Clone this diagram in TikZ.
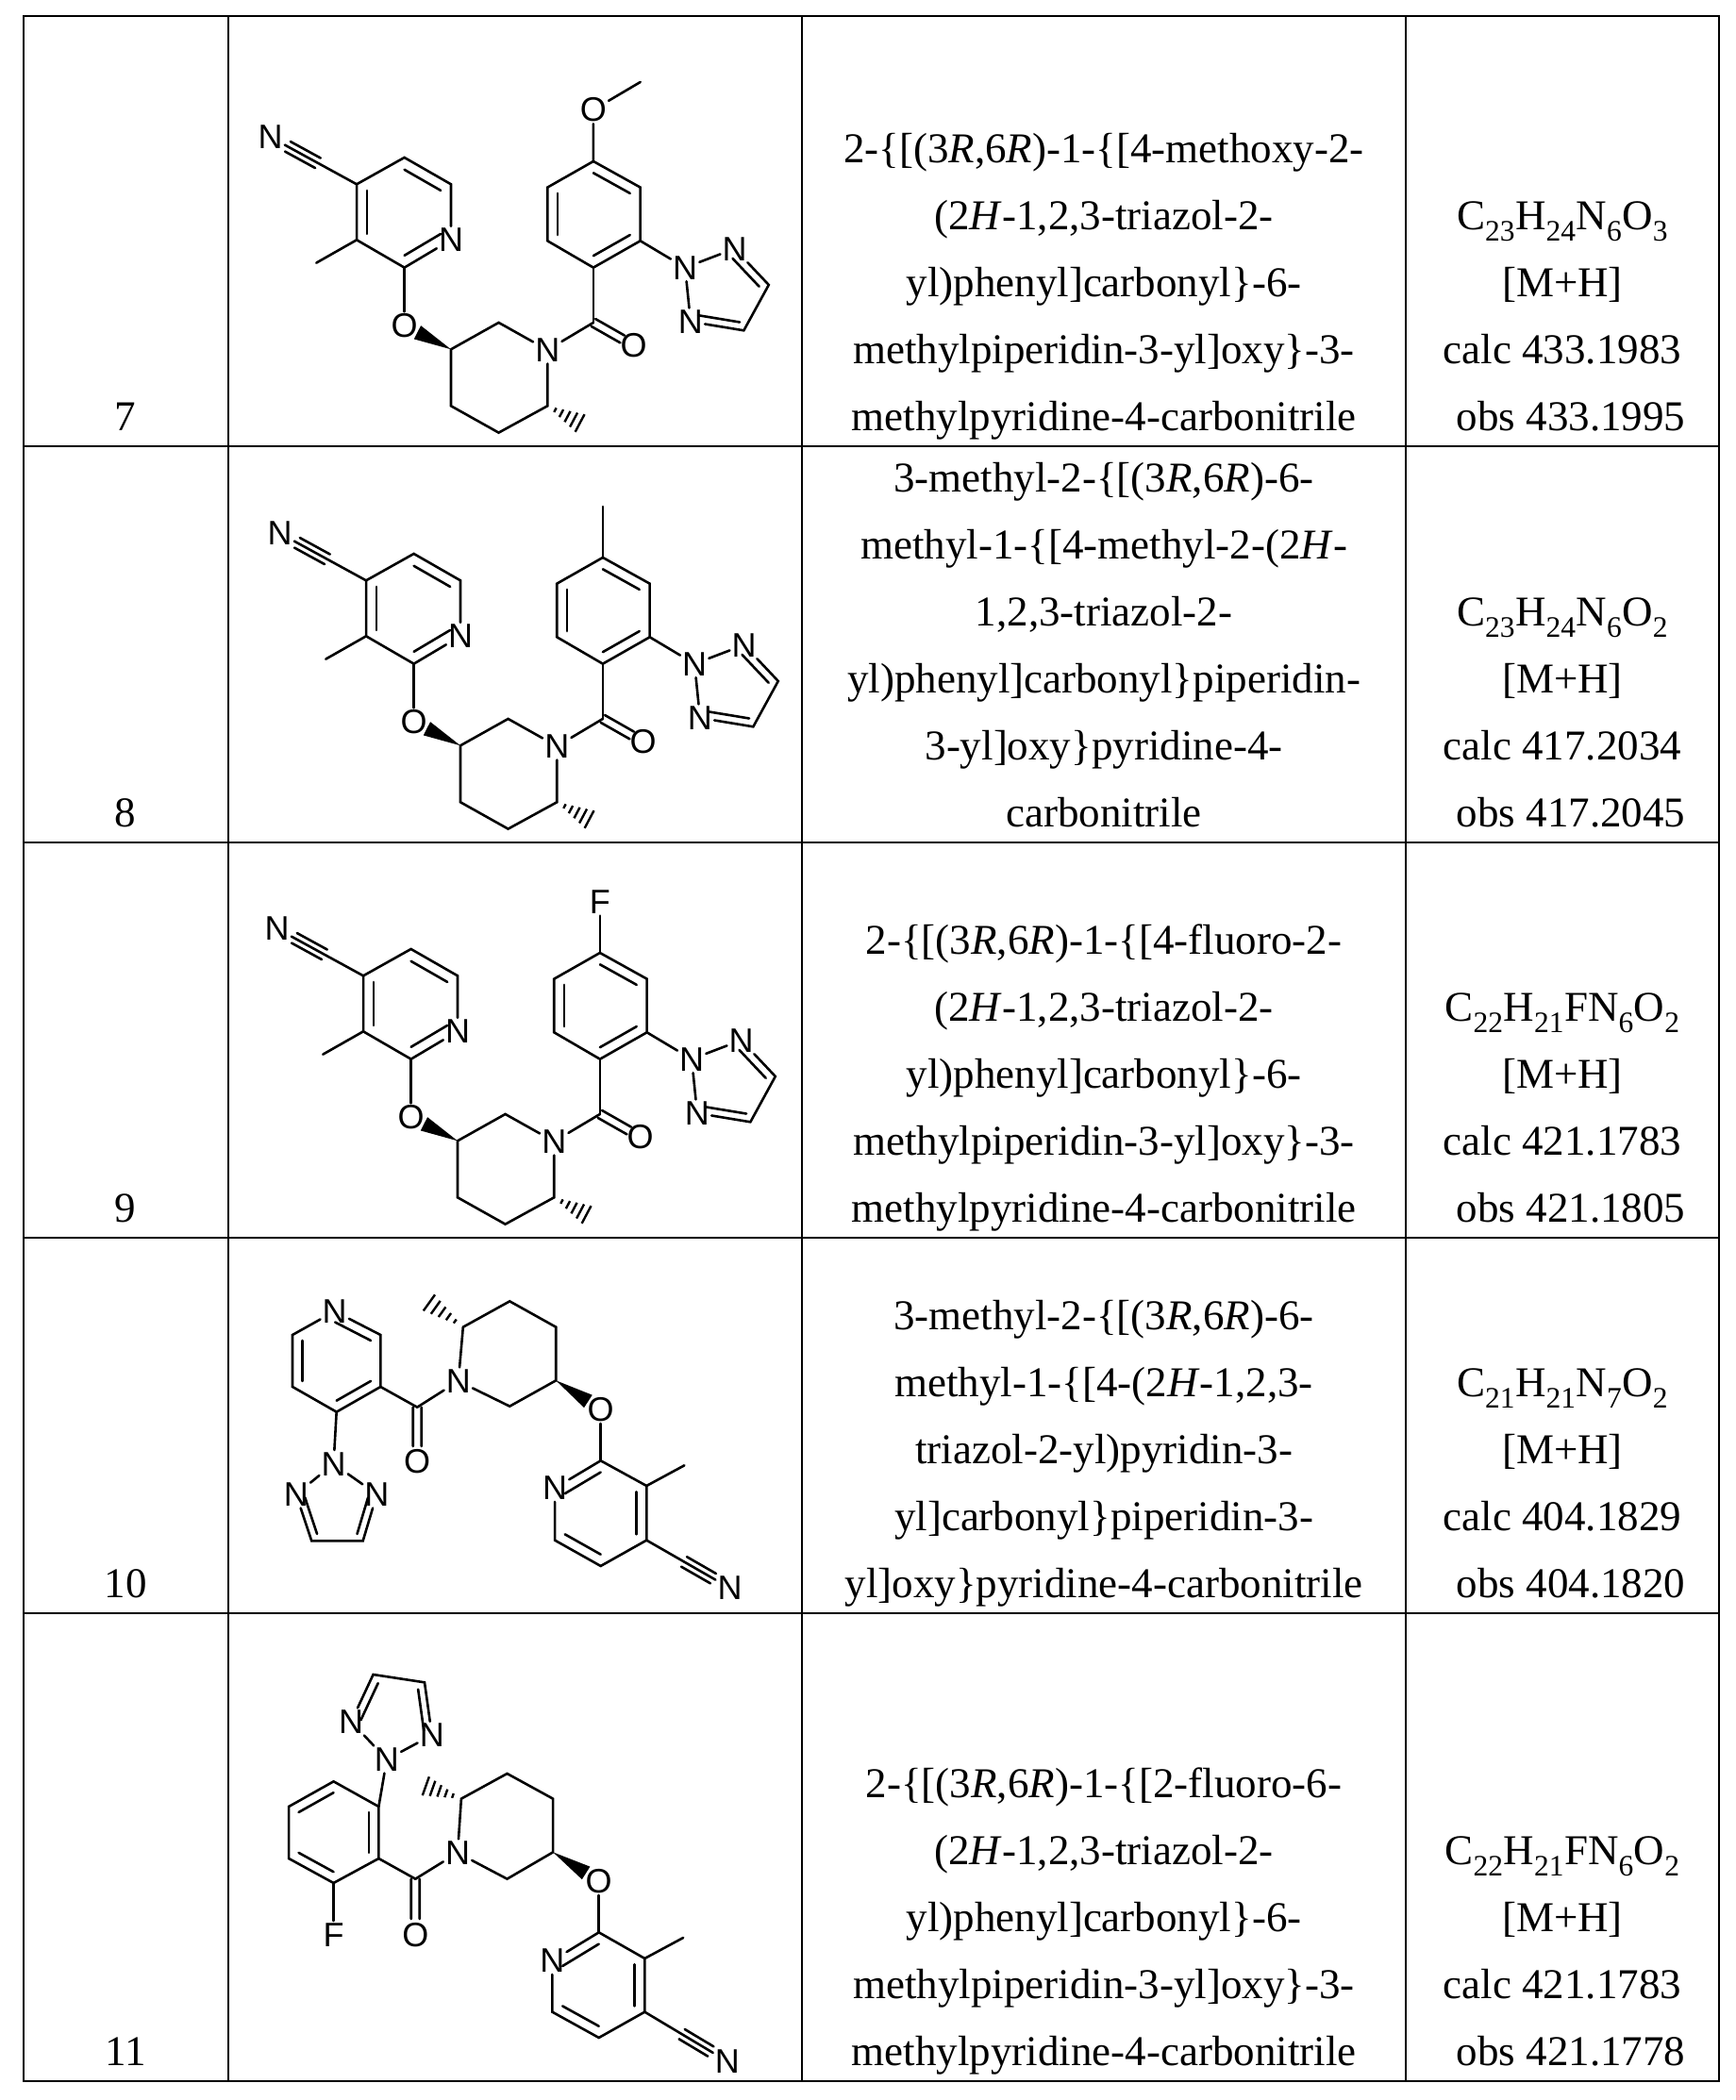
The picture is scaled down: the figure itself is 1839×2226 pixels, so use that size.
\documentclass[tikz,border=0pt]{standalone}
\usepackage{fontspec}
\setmainfont{Liberation Serif}
\newfontfamily\atomfont{Liberation Sans}
\usetikzlibrary{calc}
\tikzset{
  bond/.style={line width=2.6pt,line cap=round},
  atom/.style={font=\atomfont\fontsize{36}{36}\selectfont,inner sep=2pt},
  cell/.style={font=\fontsize{45}{71}\selectfont,align=center,anchor=south,inner sep=0pt},
  grid/.style={line width=2.4pt}
}
\newcommand\dbin[3]{\draw[bond] ($(#1)!.22!(#3)$) -- ($(#2)!.22!(#3)$);}
\newcommand\tripleb[2]{\draw[bond] (#1) -- (#2);
  \draw[bond] ($(#1)!.45!(#2)!6pt!90:(#2)$) -- ($(#1)!.8!(#2)!6pt!90:(#2)$);
  \draw[bond] ($(#1)!.45!(#2)!6pt!-90:(#2)$) -- ($(#1)!.8!(#2)!6pt!-90:(#2)$);}
\newcommand\cdo[2]{\draw[bond] ($(#1)!0!(#2)!4.5pt!90:(#2)$) -- ($(#1)!.72!(#2)!4.5pt!90:(#2)$);
  \draw[bond] ($(#1)!0!(#2)!4.5pt!-90:(#2)$) -- ($(#1)!.72!(#2)!4.5pt!-90:(#2)$);}
\newcommand\wedgeb[2]{\fill ($(#1)$) -- ($(#1)!.72!(#2)!8pt!90:(#2)$) -- ($(#1)!.72!(#2)!8pt!-90:(#2)$) -- cycle;}
\newcommand\hashb[2]{\foreach \f/\w in {.2/2.5pt,.36/4.5pt,.52/6.5pt,.68/8.5pt,.84/10.5pt,1/12.5pt}
  {\draw[line width=2.4pt] ($(#1)!\f!(#2)!\w!90:(#2)$) -- ($(#1)!\f!(#2)!\w!-90:(#2)$);}}
\newcommand\molA[3]{%
\begin{scope}[shift={(#1,#2)},x=0.3889pt,y=-0.3333pt]
 \coordinate (a4) at (355,535); \coordinate (a5) at (485,450); \coordinate (a6) at (612,535);
 \node[atom] (aN) at (612,712) {N}; \coordinate (a2) at (485,800); \coordinate (a3) at (355,712);
 \coordinate (ac) at (485,625);
 \draw[bond] (a4)--(a5)--(a6)--(aN)--(a2)--(a3)--(a4);
 \dbin{a5}{a6}{ac}\dbin{a3}{a4}{ac}\dbin{a2}{aN}{ac}
 \node[atom] (cN) at (120,385) {N}; \tripleb{a4}{cN}
 \coordinate (m1) at (245,785); \draw[bond] (a3)--(m1);
 \node[atom] (O1) at (485,985) {O}; \draw[bond] (a2)--(O1);
 \coordinate (p3) at (612,1060); \coordinate (p2) at (742,975); \node[atom] (pN) at (875,1062) {N};
 \coordinate (p6) at (875,1240); \coordinate (p5) at (742,1325); \coordinate (p4) at (612,1240);
 \draw[bond] (p3)--(p2)--(pN)--(p6)--(p5)--(p4)--(p3);
 \wedgeb{p3}{O1}
 \coordinate (h1) at (980,1305); \hashb{p6}{h1}
 \coordinate (k) at (1000,975); \node[atom] (O2) at (1110,1048) {O};
 \draw[bond] (pN)--(k); \cdo{k}{O2}
 \coordinate (b1) at (1000,800); \coordinate (b2) at (1128,715); \coordinate (b3) at (1128,545);
 \coordinate (b4) at (1000,462); \coordinate (b5) at (875,545); \coordinate (b6) at (875,715);
 \coordinate (bc) at (1000,630);
 \draw[bond] (k)--(b1); \draw[bond] (b1)--(b2)--(b3)--(b4)--(b5)--(b6)--(b1);
 \dbin{b1}{b2}{bc}\dbin{b3}{b4}{bc}\dbin{b5}{b6}{bc}
 \node[atom] (tN2) at (1250,800) {N}; \node[atom] (tN1) at (1385,740) {N};
 \coordinate (tC1) at (1478,855); \coordinate (tC2) at (1410,1000); \node[atom] (tN3) at (1265,972) {N};
 \coordinate (tc) at (1360,880);
 \draw[bond] (b2)--(tN2); \draw[bond] (tN2)--(tN1)--(tC1)--(tC2)--(tN3)--(tN2);
 \dbin{tN1}{tC1}{tc}\dbin{tC2}{tN3}{tc}
 #3
\end{scope}}
\begin{document}
\begin{tikzpicture}[x=1pt,y=-1pt]
\useasboundingbox (0,0) rectangle (1839,2226);
\fill[white] (0,0) rectangle (1839,2226);
% grid
\draw[grid] (25,17) rectangle (1822,2206);
\foreach \xx in {242,850,1490} \draw[grid] (\xx,17) -- (\xx,2206);
\foreach \yy in {473,893,1312,1710} \draw[grid] (25,\yy) -- (1822,\yy);
% numbers
\node[cell] (n7) at (133,478) {7\strut};
\node[cell] (n8) at (133,898) {8\strut};
\node[cell] (n9) at (133,1317) {9\strut};
\node[cell] (n10) at (133,1715) {10\strut};
\node[cell] (n11) at (133,2211) {11\strut};
% names
\node[cell] (t7) at (1170,478) {2-\{[(3\textit{R},6\textit{R})-1-\{[4-methoxy-2-\\(2\textit{H}-1,2,3-triazol-2-\\yl)phenyl]carbonyl\}-6-\\methylpiperidin-3-yl]oxy\}-3-\\methylpyridine-4-carbonitrile\strut};
\node[cell] (t8) at (1170,898) {3-methyl-2-\{[(3\textit{R},6\textit{R})-6-\\methyl-1-\{[4-methyl-2-(2\textit{H}-\\1,2,3-triazol-2-\\yl)phenyl]carbonyl\}piperidin-\\3-yl]oxy\}pyridine-4-\\carbonitrile\strut};
\node[cell] (t9) at (1170,1317) {2-\{[(3\textit{R},6\textit{R})-1-\{[4-fluoro-2-\\(2\textit{H}-1,2,3-triazol-2-\\yl)phenyl]carbonyl\}-6-\\methylpiperidin-3-yl]oxy\}-3-\\methylpyridine-4-carbonitrile\strut};
\node[cell] (t10) at (1170,1715) {3-methyl-2-\{[(3\textit{R},6\textit{R})-6-\\methyl-1-\{[4-(2\textit{H}-1,2,3-\\triazol-2-yl)pyridin-3-\\yl]carbonyl\}piperidin-3-\\yl]oxy\}pyridine-4-carbonitrile\strut};
\node[cell] (t11) at (1170,2211) {2-\{[(3\textit{R},6\textit{R})-1-\{[2-fluoro-6-\\(2\textit{H}-1,2,3-triazol-2-\\yl)phenyl]carbonyl\}-6-\\methylpiperidin-3-yl]oxy\}-3-\\methylpyridine-4-carbonitrile\strut};
% formulas
\node[cell] (f7) at (1656,478) {C\textsubscript{23}H\textsubscript{24}N\textsubscript{6}O\textsubscript{3}\\{}[M+H]\\calc 433.1983\\\hspace*{0.4em}obs 433.1995\strut};
\node[cell] (f8) at (1656,898) {C\textsubscript{23}H\textsubscript{24}N\textsubscript{6}O\textsubscript{2}\\{}[M+H]\\calc 417.2034\\\hspace*{0.4em}obs 417.2045\strut};
\node[cell] (f9) at (1656,1317) {C\textsubscript{22}H\textsubscript{21}FN\textsubscript{6}O\textsubscript{2}\\{}[M+H]\\calc 421.1783\\\hspace*{0.4em}obs 421.1805\strut};
\node[cell] (f10) at (1656,1715) {C\textsubscript{21}H\textsubscript{21}N\textsubscript{7}O\textsubscript{2}\\{}[M+H]\\calc 404.1829\\\hspace*{0.4em}obs 404.1820\strut};
\node[cell] (f11) at (1656,2211) {C\textsubscript{22}H\textsubscript{21}FN\textsubscript{6}O\textsubscript{2}\\{}[M+H]\\calc 421.1783\\\hspace*{0.4em}obs 421.1778\strut};
% molecules 7-9
\molA{240}{17}{\node[atom] (O3) at (1000,298) {O}; \coordinate (me) at (1128,210); \draw[bond] (b4)--(O3)--(me);}
\molA{250}{437}{\coordinate (me) at (1000,300); \draw[bond] (b4)--(me);}
\molA{247}{856}{\node[atom] (F1) at (1000,300) {F}; \draw[bond] (b4)--(F1);}
% molecule 10
\begin{scope}[shift={(240,1300)},x=0.3889pt,y=-0.3333pt]
 \node[atom] (qN) at (295,270) {N}; \coordinate (q2) at (420,345); \coordinate (q3) at (420,510);
 \coordinate (q4) at (300,590); \coordinate (q5) at (180,510); \coordinate (q6) at (180,345);
 \coordinate (qc) at (300,427);
 \draw[bond] (qN)--(q2)--(q3)--(q4)--(q5)--(q6)--(qN);
 \dbin{qN}{q2}{qc}\dbin{q3}{q4}{qc}\dbin{q5}{q6}{qc}
 \coordinate (k) at (520,575); \node[atom] (O2) at (520,748) {O};
 \draw[bond] (q3)--(k); \cdo{k}{O2}
 \node[atom] (pN) at (632,492) {N}; \coordinate (p2) at (645,320); \coordinate (p3) at (772,238);
 \coordinate (p4) at (898,320); \coordinate (p5) at (898,490); \coordinate (p6) at (772,572);
 \draw[bond] (k)--(pN); \draw[bond] (pN)--(p2)--(p3)--(p4)--(p5)--(p6)--(pN);
 \coordinate (h1) at (535,228); \hashb{p2}{h1}
 \node[atom] (O1) at (1020,582) {O}; \wedgeb{p5}{O1}
 \coordinate (r2) at (1020,745); \coordinate (r3) at (1145,825); \coordinate (r4) at (1145,998);
 \coordinate (r5) at (1020,1080); \coordinate (r6) at (895,998); \node[atom] (rN) at (895,832) {N};
 \coordinate (rc) at (1020,912);
 \draw[bond] (O1)--(r2); \draw[bond] (r2)--(r3)--(r4)--(r5)--(r6)--(rN)--(r2);
 \dbin{r2}{rN}{rc}\dbin{r3}{r4}{rc}\dbin{r5}{r6}{rc}
 \coordinate (m1) at (1248,760); \draw[bond] (r3)--(m1);
 \node[atom] (cN) at (1372,1150) {N}; \tripleb{r4}{cN}
 \node[atom] (tN2) at (292,755) {N}; \node[atom] (tN1) at (190,852) {N}; \node[atom] (tN3) at (410,852) {N};
 \coordinate (tC1) at (232,1000); \coordinate (tC2) at (372,1000); \coordinate (tc) at (300,900);
 \draw[bond] (q4)--(tN2); \draw[bond] (tN2)--(tN1)--(tC1)--(tC2)--(tN3)--(tN2);
 \dbin{tN1}{tC1}{tc}\dbin{tC2}{tN3}{tc}
\end{scope}
% molecule 11
\begin{scope}[shift={(240,1700)},x=0.3889pt,y=-0.3333pt]
 \coordinate (b1) at (415,645); \coordinate (b2) at (415,810); \coordinate (b3) at (292,888);
 \coordinate (b4) at (170,810); \coordinate (b5) at (170,645); \coordinate (b6) at (292,565);
 \coordinate (bc) at (292,727);
 \draw[bond] (b1)--(b2)--(b3)--(b4)--(b5)--(b6)--(b1);
 \dbin{b1}{b2}{bc}\dbin{b3}{b4}{bc}\dbin{b5}{b6}{bc}
 \node[atom] (F1) at (292,1052) {F}; \draw[bond] (b3)--(F1);
 \coordinate (k) at (515,875); \node[atom] (O2) at (515,1052) {O};
 \draw[bond] (b2)--(k); \cdo{k}{O2}
 \node[atom] (pN) at (630,792) {N}; \coordinate (p2) at (640,620); \coordinate (p3) at (765,540);
 \coordinate (p4) at (890,620); \coordinate (p5) at (890,790); \coordinate (p6) at (765,875);
 \draw[bond] (k)--(pN); \draw[bond] (pN)--(p2)--(p3)--(p4)--(p5)--(p6)--(pN);
 \coordinate (h1) at (525,572); \hashb{p2}{h1}
 \node[atom] (O1) at (1015,882) {O}; \wedgeb{p5}{O1}
 \coordinate (r2) at (1015,1045); \coordinate (r3) at (1140,1128); \coordinate (r4) at (1140,1298);
 \coordinate (r5) at (1015,1380); \coordinate (r6) at (888,1298); \node[atom] (rN) at (888,1135) {N};
 \coordinate (rc) at (1015,1213);
 \draw[bond] (O1)--(r2); \draw[bond] (r2)--(r3)--(r4)--(r5)--(r6)--(rN)--(r2);
 \dbin{r2}{rN}{rc}\dbin{r3}{r4}{rc}\dbin{r5}{r6}{rc}
 \coordinate (m1) at (1245,1062); \draw[bond] (r3)--(m1);
 \node[atom] (cN) at (1365,1455) {N}; \tripleb{r4}{cN}
 \node[atom] (tN2) at (437,495) {N}; \node[atom] (tN1) at (340,375) {N}; \node[atom] (tN3) at (560,418) {N};
 \coordinate (tC1) at (400,225); \coordinate (tC2) at (540,250); \coordinate (tc) at (460,350);
 \draw[bond] (b1)--(tN2); \draw[bond] (tN2)--(tN1)--(tC1)--(tC2)--(tN3)--(tN2);
 \dbin{tN1}{tC1}{tc}\dbin{tC2}{tN3}{tc}
\end{scope}
\end{tikzpicture}
\end{document}
